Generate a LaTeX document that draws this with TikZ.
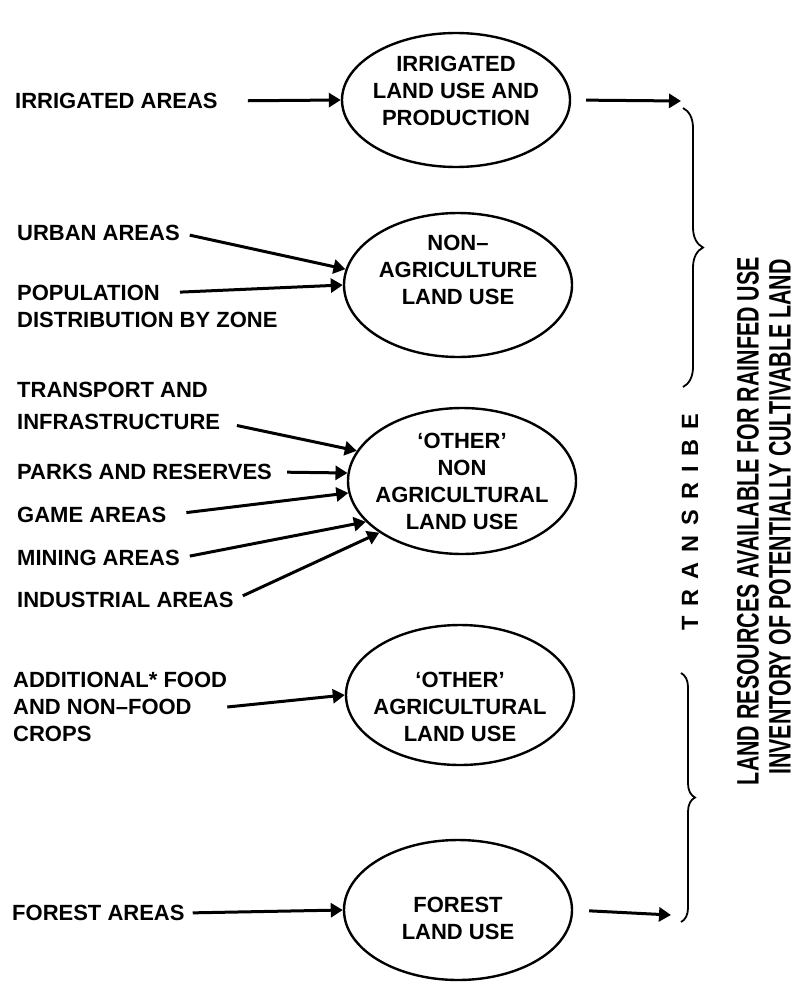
\documentclass[tikz,border=0pt]{standalone}
\usepackage{fontspec}
\usepackage{graphicx}
\setmainfont{Liberation Sans}
\usetikzlibrary{shapes.geometric,arrows.meta,decorations.pathreplacing}
\tikzset{
	landuse/.style={ellipse,draw,line width=2.4pt,minimum width=228pt,minimum height=140pt,inner sep=0pt},
	src/.style={anchor=west,inner sep=0pt},
	feed/.style={line width=3pt,-{Triangle[length=12pt,width=14pt]},shorten <=10pt},
	brc/.style={decorate,decoration={brace,amplitude=#1},line width=1.8pt},
}
\begin{document}
\begin{tikzpicture}[x=1pt,y=-1pt,font=\bfseries\fontsize{22}{27}\selectfont]
			\useasboundingbox (0,0) rectangle (797,990);
			\node[landuse,minimum height=134pt,label={[align=center,yshift=9pt]center:{IRRIGATED\\LAND USE AND\\PRODUCTION}}] (irr) at (456,100) {};
			\node[landuse,minimum height=144pt,label={[align=center,yshift=15pt]center:{NON--\\AGRICULTURE\\LAND USE}}] (nonag) at (458,285) {};
			\node[landuse,minimum height=146pt,label={[align=center]center:{`OTHER'\\NON\\AGRICULTURAL\\LAND USE}}] (othnon) at (462,481) {};
			\node[landuse,label={[align=center,yshift=-12pt]center:{`OTHER'\\AGRICULTURAL\\LAND USE}}] (othag) at (460,695) {};
			\node[landuse,label={[align=center,yshift=-8pt]center:{FOREST\\LAND USE}}] (forest) at (458,910) {};
			\node[src] (irrareas) at (15,101) {IRRIGATED AREAS};
			\node[src] (urban) at (17,233) {URBAN AREAS};
			\node[src] (pop) at (17,293) {POPULATION};
			\node[src] (popzone) at (17,320) {DISTRIBUTION BY ZONE};
			\node[src] (transa) at (17,390) {TRANSPORT AND};
			\node[src] (transb) at (17,422) {INFRASTRUCTURE};
			\node[src] (parks) at (17,472) {PARKS AND RESERVES};
			\node[src] (game) at (17,515) {GAME AREAS};
			\node[src] (mining) at (17,558) {MINING AREAS};
			\node[src] (indust) at (17,600) {INDUSTRIAL AREAS};
			\node[src,align=left] (addit) at (13,707) {ADDITIONAL* FOOD\\AND NON--FOOD\\CROPS};
			\node[src] (forareas) at (12,913) {FOREST AREAS};
			\draw[feed,shorten <=30pt] (irrareas.east) -- (irr.west);
			\draw[feed] (urban.east) -- (nonag.172);
			\draw[feed,shorten <=20pt] (pop.east) -- (nonag.west);
			\draw[feed,shorten <=17pt] (transb.east) -- (othnon.164);
			\draw[feed,shorten <=15pt] (parks.east) -- (othnon.176);
			\draw[feed,shorten <=20pt] (game.east) -- (othnon.186);
			\draw[feed] (mining.east) -- (othnon.203);
			\draw[feed] (indust.east) -- (othnon.212);
			\draw[feed,shorten <=0pt] (addit.east) -- (othag.west);
			\draw[feed,shorten <=8pt] (forareas.east) -- (forest.west);
			\coordinate (irrtip) at (681,101);
			\coordinate (fortip) at (671,915);
			\draw[feed,shorten <=15pt] (irr.east) -- (irrtip);
			\draw[feed,shorten <=16pt] (forest.east) -- (fortip);
			\coordinate (topa) at (683,108);
			\coordinate (topb) at (683,387);
			\coordinate (lowa) at (681,673);
			\coordinate (lowb) at (681,922);
			\draw[brc=20pt] (topa) -- (topb);
			\draw[brc=14pt] (lowa) -- (lowb);
			\node[rotate=90] (transr) at (690,522) {\fontsize{23.5}{28}\selectfont\spaceskip=10pt T R A N S R I B E};
			\node[rotate=90,inner sep=0pt] (landres) at (748,521) {\scalebox{0.69}[1]{\fontsize{31}{34}\selectfont LAND RESOURCES AVAILABLE FOR RAINFED USE}};
			\node[rotate=90,inner sep=0pt] (invent) at (780,517) {\scalebox{0.69}[1]{\fontsize{31}{34}\selectfont INVENTORY OF POTENTIALLY CULTIVABLE LAND}};
		\end{tikzpicture}
\end{document}
